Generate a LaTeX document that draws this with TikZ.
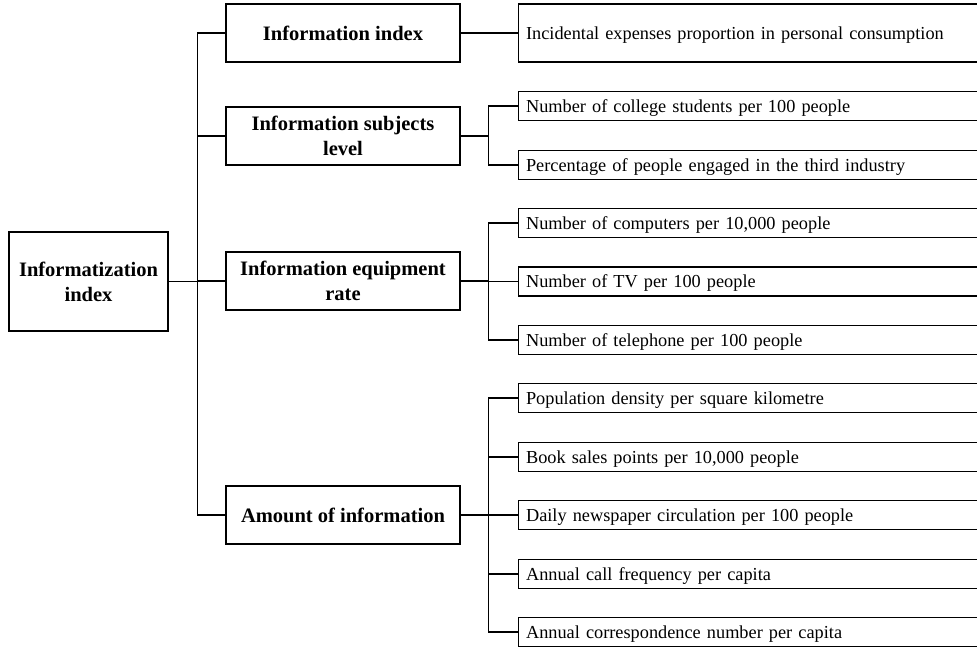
\documentclass[tikz,border=0pt]{standalone}
\usepackage{fontspec}
\setmainfont{Liberation Serif}
\usepackage{tikz}

\begin{document}
\begin{tikzpicture}[x=1pt, y=-1pt, line width=1.1pt,
  head/.style={draw, align=center, inner sep=0pt,
    font=\bfseries\fontsize{20.5}{25}\selectfont},
  rootbox/.style={head, minimum width=159pt, minimum height=99pt},
  groupbox/.style={head, minimum width=234pt, minimum height=58pt},
  itembox/.style={draw, anchor=west, minimum height=29pt, inner xsep=8pt,
    text width=446pt, align=left, text height=12.1pt, text depth=0pt,
    font=\fontsize{18.3}{22}\selectfont}]
  \clip (0,0) rectangle (977,652);
  % root and first level
  \node[rootbox] (root) at (88.5,281.5) {Informatization\\index};
  \node[groupbox] (g1) at (343,33) {Information index};
  \node[groupbox] (g2) at (343,136) {Information subjects\\level};
  \node[groupbox] (g3) at (343,281) {Information equipment\\rate};
  \node[groupbox] (g4) at (343,515) {Amount of information};
  % indicators
  \node[itembox, minimum height=58pt] (c11) at (517.5,33) {Incidental expenses proportion in personal consumption};
  \node[itembox] (c21) at (517.5,106) {Number of college students per 100 people};
  \node[itembox] (c22) at (517.5,165) {Percentage of people engaged in the third industry};
  \node[itembox] (c31) at (517.5,223) {Number of computers per 10,000 people};
  \node[itembox] (c32) at (517.5,281.5) {Number of TV per 100 people};
  \node[itembox] (c33) at (517.5,340) {Number of telephone per 100 people};
  \node[itembox] (c41) at (517.5,398) {Population density per square kilometre};
  \node[itembox] (c42) at (517.5,457) {Book sales points per 10,000 people};
  \node[itembox] (c43) at (517.5,515) {Daily newspaper circulation per 100 people};
  \node[itembox] (c44) at (517.5,574) {Annual call frequency per capita};
  \node[itembox] (c45) at (517.5,632) {Annual correspondence number per capita};
  % connectors
  \draw (root.east) -- ++(29,0) coordinate (hub);
  \foreach \g in {g1,g2,g3,g4}
    \draw (\g.west) -| (hub);
  \draw (g1.east) -- (c11.west);
  \draw (g2.east) -- ++(28,0) coordinate (b2);
  \foreach \c in {c21,c22}
    \draw (\c.west) -| (b2);
  \draw (g3.east) -- ++(28,0) coordinate (b3);
  \foreach \c in {c31,c32,c33}
    \draw (\c.west) -| (b3);
  \draw (g4.east) -- ++(28,0) coordinate (b4);
  \foreach \c in {c41,c42,c43,c44,c45}
    \draw (\c.west) -| (b4);
\end{tikzpicture}
\end{document}
